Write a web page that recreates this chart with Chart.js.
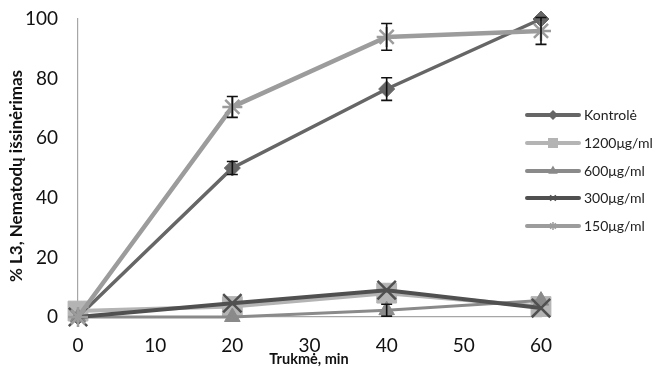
<!DOCTYPE html>
<html><head><meta charset="utf-8">
<script src="https://cdn.jsdelivr.net/npm/chart.js@4"></script>
<style>html,body{margin:0;padding:0;background:#fff}#wrap{width:657px;height:367px}</style>
</head><body><div id="wrap"><canvas id="c" width="657" height="367"></canvas></div>
<script>
const times = [0, 20, 40, 60];
const seriesNames = ['Kontrolė', '1200μg/ml', '600μg/ml', '300μg/ml', '150μg/ml'];
const kontrole = [0, 50, 76.5, 100];
const c1200 = [2, 3.5, 8, 3.5];
const c600 = [0, 0, 2.3, 5.5];
const c300 = [0, 4.6, 9, 3];
const c150 = [0, 70.5, 94, 96];
const errKontrole = [0, 2.2, 3.8, 0];
const err1200 = [0, 0, 0, 0];
const err600 = [0, 0, 2, 0];
const err300 = [0, 0, 0, 0];
const err150 = [0, 3.5, 4.5, 4.5];
const xTicks = [0, 10, 20, 30, 40, 50, 60];
const yTicks = [0, 20, 40, 60, 80, 100];

const FONT = 'Lato, "Open Sans", sans-serif';
const styles = [
  {color:'#666666', w:3.5, pt:'rectRot', r:8},
  {color:'#b4b4b4', w:4, pt:'rect', r:14},
  {color:'#8a8a8a', w:3, pt:'triangle', r:9},
  {color:'#505050', w:4, pt:'crossRot', r:13},
  {color:'#9c9c9c', w:4.5, pt:'star', r:10}
];
const values = [kontrole, c1200, c600, c300, c150];
const errs = [errKontrole, err1200, err600, err300, err150];

const datasets = values.map((v, i) => ({
  label: seriesNames[i],
  data: times.map((t, j) => ({x: t, y: v[j]})),
  borderColor: styles[i].color,
  backgroundColor: styles[i].color,
  borderWidth: styles[i].w,
  pointStyle: styles[i].pt,
  pointRadius: styles[i].r,
  pointBorderWidth: styles[i].pt.startsWith('cross') || styles[i].pt==='star' ? 2.5 : 1,
  pointBorderColor: styles[i].color,
  pointBackgroundColor: styles[i].color,
  tension: 0,
  clip: false,
  order: 5 - i,
  errors: errs[i]
}));

const errorBars = {
  id: 'errorBars',
  afterDatasetsDraw(chart) {
    const ctx = chart.ctx, xs = chart.scales.x, ys = chart.scales.y;
    ctx.save();
    ctx.strokeStyle = '#111';
    ctx.lineWidth = 1.6;
    chart.data.datasets.forEach(ds => {
      ds.data.forEach((p, j) => {
        const e = ds.errors[j];
        if (!e) return;
        const px = xs.getPixelForValue(p.x);
        const y1 = ys.getPixelForValue(p.y + e), y2 = ys.getPixelForValue(p.y - e);
        ctx.beginPath();
        ctx.moveTo(px, y1); ctx.lineTo(px, y2);
        ctx.moveTo(px - 5.5, y1); ctx.lineTo(px + 5.5, y1);
        ctx.moveTo(px - 5.5, y2); ctx.lineTo(px + 5.5, y2);
        ctx.stroke();
      });
    });
    ctx.restore();
  }
};

const customText = {
  id: 'customText',
  afterDraw(chart) {
    const ctx = chart.ctx;
    ctx.save();
    const ly = [115, 143, 171, 198, 226];
    chart.data.datasets.forEach((ds, i) => {
      const y = ly[i];
      ctx.strokeStyle = ds.borderColor;
      ctx.lineWidth = 4;
      ctx.lineCap = 'round';
      ctx.beginPath(); ctx.moveTo(527, y); ctx.lineTo(579, y); ctx.stroke();
      ctx.lineCap = 'butt';
      ctx.fillStyle = ds.borderColor;
      ctx.lineWidth = 1.5;
      Chart.helpers.drawPoint(ctx, {pointStyle: ds.pointStyle, radius: ds.pointStyle==='rect' ? 6 : 4, rotation: 0, borderWidth: 1.5}, 553, y);
      ctx.fillStyle = '#222';
      ctx.font = '14px ' + FONT;
      ctx.textBaseline = 'middle';
      ctx.textAlign = 'left';
      ctx.fillText(ds.label, 584, y);
    });
    ctx.fillStyle = '#111';
    ctx.font = 'bold 14.5px ' + FONT;
    ctx.textAlign = 'center';
    ctx.textBaseline = 'middle';
    ctx.fillText('Trukmė, min', 309, 359);
    ctx.translate(17, 176);
    ctx.rotate(-Math.PI / 2);
    ctx.font = 'bold 17px ' + FONT;
    ctx.fillText('% L3, Nematodų išsinėrimas', 0, 0);
    ctx.restore();
  }
};

new Chart(document.getElementById('c'), {
  type: 'line',
  data: { datasets },
  options: {
    responsive: false,
    animation: false,
    layout: { autoPadding: false, padding: { top: 19, right: 116, left: 0, bottom: 0 } },
    plugins: { legend: { display: false }, tooltip: { enabled: false } },
    scales: {
      x: {
        type: 'linear', min: 0, max: 60,
        afterBuildTicks(s) { s.ticks = xTicks.map(v => ({value: v})); },
        afterFit(s) { s.height = 50; s.paddingLeft = 0; s.paddingRight = 0; },
        grid: { display: false, drawTicks: false },
        border: { display: true, color: '#a6a6a6', width: 1.2 },
        ticks: { font: { family: FONT, size: 19 }, color: '#111', padding: 17, maxRotation: 0 }
      },
      y: {
        type: 'linear', min: 0, max: 100,
        afterBuildTicks(s) { s.ticks = yTicks.map(v => ({value: v})); },
        afterFit(s) { s.width = 78; s.paddingTop = 0; s.paddingBottom = 0; },
        grid: { display: false, drawTicks: false },
        border: { display: true, color: '#a6a6a6', width: 1.2 },
        ticks: { font: { family: FONT, size: 19 }, color: '#111', padding: 20 }
      }
    }
  },
  plugins: [errorBars, customText]
});
</script></body></html>
